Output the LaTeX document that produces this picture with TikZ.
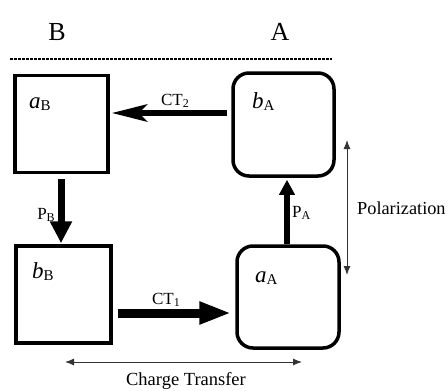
\documentclass[tikz,border=0pt]{standalone}
\usepackage{fontspec}
\setmainfont{Liberation Serif}
\usetikzlibrary{arrows.meta,calc}
\newcommand{\lbl}[2]{{\fontsize{23}{23}\selectfont\itshape #1}{\fontsize{15}{15}\selectfont\raisebox{-2.5pt}{#2}}}
\newcommand{\arlbl}[2]{{\fontsize{17}{17}\selectfont #1}{\fontsize{12}{12}\selectfont\raisebox{-2pt}{#2}}}
\begin{document}
\begin{tikzpicture}[x=1pt,y=-1pt,
  sqbox/.style={draw,line width=3.5pt,rectangle,inner sep=0pt},
  rbox/.style={draw,line width=3.5pt,rectangle,rounded corners=16pt,inner sep=0pt},
  thinarrow/.style={draw=black!80,line width=1pt,{Latex[length=9pt,width=7pt]}-{Latex[length=9pt,width=7pt]}},
  txt/.style={inner sep=0pt,anchor=base}
]
\useasboundingbox (0,0) rectangle (448,391);
% header
\node[txt,font=\fontsize{26}{26}\selectfont] (hB) at (57,40) {B};
\node[txt,font=\fontsize{26}{26}\selectfont] (hA) at (280,40) {A};
\coordinate (d1) at (10,59);
\coordinate (d2) at (332,59);
\draw[line width=1.5pt,dash pattern=on 2.5pt off 1.5pt] (d1) -- (d2);
% boxes
\node[sqbox,minimum width=93pt,minimum height=97pt] (aB) at (61.5,124) {};
\node[rbox,minimum width=101pt,minimum height=103pt] (bA) at (283.5,124.5) {};
\node[sqbox,minimum width=95pt,minimum height=97pt] (bB) at (63.5,294.5) {};
\node[rbox,minimum width=102pt,minimum height=102pt] (aA) at (288,297) {};
% labels in boxes
\node[inner sep=0pt,anchor=base west] (laB) at (29,108) {\lbl{a}{B}};
\node[inner sep=0pt,anchor=base west] (lbA) at (252,108) {\lbl{b}{A}};
\node[inner sep=0pt,anchor=base west] (lbB) at (32,278) {\lbl{b}{B}};
\node[inner sep=0pt,anchor=base west] (laA) at (255,282) {\lbl{a}{A}};
% CT2
\draw[line width=6pt,-{Stealth[length=35pt,width=17pt,inset=8pt]}]
  ($(bA.west)+(-4,-11.5)$) -- ($(aB.east)+(2,-11)$);
\node[txt] (tCT2) at (175,105) {\arlbl{CT}{2}};
% CT1
\draw[line width=9pt,-{Triangle[length=32pt,width=21pt]}]
  ($(bB.east)+(5,18.5)$) -- ($(aA.west)+(-4,16)$);
\node[txt] (tCT1) at (166,304) {\arlbl{CT}{1}};
% PB
\draw[line width=7pt,-{Triangle[length=22pt,width=21pt]}]
  ($(aB.south)+(-0.5,5)$) -- ($(bB.north)+(-2.5,-1)$);
\node[txt] (tPB) at (46,219) {\arlbl{P}{B}};
% PA
\draw[line width=6pt,-{Triangle[length=15pt,width=15pt]}]
  ($(aA.north)+(-1,0)$) -- ($(bA.south)+(3.5,2)$);
\node[txt,anchor=base west] (tPA) at (292,217) {\arlbl{P}{A}};
% Polarization
\coordinate (p1) at (347,140);
\coordinate (p2) at (347,275);
\draw[thinarrow] (p1) -- (p2);
\node[txt,anchor=base west,font=\fontsize{18.3}{18.3}\selectfont] (tPol) at (357,214) {Polarization};
% Charge transfer
\coordinate (c1) at (65,362);
\coordinate (c2) at (302,362);
\draw[thinarrow] (c1) -- (c2);
\node[txt,font=\fontsize{18.5}{18.5}\selectfont] (tCT) at (186,385) {Charge Transfer};
\end{tikzpicture}
\end{document}
